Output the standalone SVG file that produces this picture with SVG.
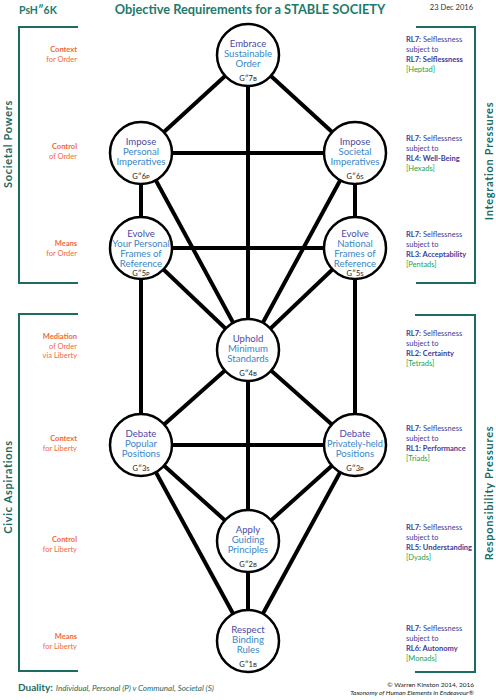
<svg xmlns="http://www.w3.org/2000/svg" width="496" height="700" viewBox="0 0 496 700">
<style>
text{font-family:Lato,"Liberation Sans",sans-serif}
.edge{stroke:#000;stroke-width:4;stroke-linecap:butt}
.node circle{fill:#fff;stroke:#000;stroke-width:2.5}
.nt{font-size:9.6px;text-anchor:middle;fill:#3a86c8}
.nt1{fill:#4b4aa6}
.g{font-size:7.5px;text-anchor:middle;fill:#222}
.bracket{fill:none;stroke:#1d6b63;stroke-width:2}
.side{font-size:11px;font-weight:bold;fill:#1d6b63;text-anchor:middle;letter-spacing:0.7px}
.lab{font-size:7.5px;fill:#f26a36;text-anchor:end}
.lab .b{font-weight:bold}
.rl{font-size:7.5px;fill:#3d3d99}
.rl .b{font-weight:bold}
.rl .gr{fill:#22a24a}
</style>

<!-- header -->
<text x="19" y="14" font-size="10.5" font-weight="bold" fill="#1d7a6c">PsH″6K</text>
<text x="250" y="14" font-size="12.8" font-weight="bold" fill="#1d7a6c" text-anchor="middle">Objective Requirements for a STABLE SOCIETY</text>
<text x="473" y="10" font-size="7.5" fill="#333" text-anchor="end">23 Dec 2016</text>

<!-- brackets -->
<g id="brackets">
<path class="bracket" d="M78,27 H19 V283 H78"/>
<path class="bracket" d="M78,314 H19 V671 H78"/>
<path class="bracket" d="M416,27 H475 V283 H416"/>
<path class="bracket" d="M415,315 H475 V672 H415"/>
</g>
<text class="side" transform="translate(12,144) rotate(-90)">Societal Powers</text>
<text class="side" transform="translate(12,487) rotate(-90)">Civic Aspirations</text>
<text class="side" transform="translate(493,161) rotate(-90)">Integration Pressures</text>
<text class="side" transform="translate(493,493) rotate(-90)">Responsibility Pressures</text>

<!-- left labels -->
<g id="left-labels">
<text class="lab" x="77" y="52"><tspan class="b">Context</tspan><tspan x="77" dy="10">for Order</tspan></text>
<text class="lab" x="77" y="149"><tspan class="b">Control</tspan><tspan x="77" dy="10">of Order</tspan></text>
<text class="lab" x="77" y="246"><tspan class="b">Means</tspan><tspan x="77" dy="10">for Order</tspan></text>
<text class="lab" x="77" y="339"><tspan class="b">Mediation</tspan><tspan x="77" dy="9.5">of Order</tspan><tspan x="77" dy="9.5">via Liberty</tspan></text>
<text class="lab" x="77" y="441"><tspan class="b">Context</tspan><tspan x="77" dy="10">for Liberty</tspan></text>
<text class="lab" x="77" y="542"><tspan class="b">Control</tspan><tspan x="77" dy="10">for Liberty</tspan></text>
<text class="lab" x="77" y="639"><tspan class="b">Means</tspan><tspan x="77" dy="10">for Liberty</tspan></text>
</g>

<!-- right labels -->
<g id="right-labels">
<text class="rl" x="406" y="42"><tspan class="b">RL7:</tspan> Selflessness<tspan x="406" dy="10">subject to</tspan><tspan x="406" dy="10" class="b">RL7: Selflessness</tspan><tspan x="406" dy="10" class="gr">[Heptad]</tspan></text>
<text class="rl" x="406" y="141"><tspan class="b">RL7:</tspan> Selflessness<tspan x="406" dy="10">subject to</tspan><tspan x="406" dy="10" class="b">RL4: Well-Being</tspan><tspan x="406" dy="10" class="gr">[Hexads]</tspan></text>
<text class="rl" x="406" y="237"><tspan class="b">RL7:</tspan> Selflessness<tspan x="406" dy="10">subject to</tspan><tspan x="406" dy="10" class="b">RL3: Acceptability</tspan><tspan x="406" dy="10" class="gr">[Pentads]</tspan></text>
<text class="rl" x="406" y="336"><tspan class="b">RL7:</tspan> Selflessness<tspan x="406" dy="10">subject to</tspan><tspan x="406" dy="10" class="b">RL2: Certainty</tspan><tspan x="406" dy="10" class="gr">[Tetrads]</tspan></text>
<text class="rl" x="406" y="431"><tspan class="b">RL7:</tspan> Selflessness<tspan x="406" dy="10">subject to</tspan><tspan x="406" dy="10" class="b">RL1: Performance</tspan><tspan x="406" dy="10" class="gr">[Triads]</tspan></text>
<text class="rl" x="406" y="530"><tspan class="b">RL7:</tspan> Selflessness<tspan x="406" dy="10">subject to</tspan><tspan x="406" dy="10" class="b">RL5: Understanding</tspan><tspan x="406" dy="10" class="gr">[Dyads]</tspan></text>
<text class="rl" x="406" y="631"><tspan class="b">RL7:</tspan> Selflessness<tspan x="406" dy="10">subject to</tspan><tspan x="406" dy="10" class="b">RL6: Autonomy</tspan><tspan x="406" dy="10" class="gr">[Monads]</tspan></text>
</g>

<!-- connectors -->
<g id="connectors">
<line class="edge" x1="248" y1="55" x2="141" y2="153"/>
<line class="edge" x1="248" y1="55" x2="355" y2="153"/>
<line class="edge" x1="248" y1="55" x2="248" y2="350"/>
<line class="edge" x1="141" y1="153" x2="355" y2="153"/>
<line class="edge" x1="141" y1="153" x2="141" y2="248"/>
<line class="edge" x1="355" y1="153" x2="355" y2="248"/>
<line class="edge" x1="141" y1="153" x2="248" y2="350"/>
<line class="edge" x1="355" y1="153" x2="248" y2="350"/>
<line class="edge" x1="141" y1="248" x2="355" y2="248"/>
<line class="edge" x1="141" y1="248" x2="248" y2="350"/>
<line class="edge" x1="355" y1="248" x2="248" y2="350"/>
<line class="edge" x1="141" y1="248" x2="141" y2="445"/>
<line class="edge" x1="355" y1="248" x2="355" y2="445"/>
<line class="edge" x1="248" y1="350" x2="141" y2="445"/>
<line class="edge" x1="248" y1="350" x2="355" y2="445"/>
<line class="edge" x1="248" y1="350" x2="248" y2="641"/>
<line class="edge" x1="141" y1="445" x2="355" y2="445"/>
<line class="edge" x1="141" y1="445" x2="248" y2="541"/>
<line class="edge" x1="355" y1="445" x2="248" y2="541"/>
<line class="edge" x1="141" y1="445" x2="248" y2="641"/>
<line class="edge" x1="355" y1="445" x2="248" y2="641"/>
</g>

<!-- nodes -->
<g id="n7B" class="node"><circle cx="248" cy="55" r="31"/>
<text class="nt" x="248" y="46.5"><tspan class="nt1">Embrace</tspan><tspan x="248" dy="10.3">Sustainable</tspan><tspan x="248" dy="10.3">Order</tspan></text>
<text class="g" x="248" y="81">G″7<tspan font-size="6">B</tspan></text></g>

<g id="n6P" class="node"><circle cx="141" cy="153" r="31"/>
<text class="nt" x="141" y="144.5"><tspan class="nt1">Impose</tspan><tspan x="141" dy="10.3">Personal</tspan><tspan x="141" dy="10.3">Imperatives</tspan></text>
<text class="g" x="141" y="179">G″6<tspan font-size="6">P</tspan></text></g>

<g id="n6S" class="node"><circle cx="355" cy="153" r="31"/>
<text class="nt" x="355" y="144.5"><tspan class="nt1">Impose</tspan><tspan x="355" dy="10.3">Societal</tspan><tspan x="355" dy="10.3">Imperatives</tspan></text>
<text class="g" x="355" y="179">G″6<tspan font-size="6">S</tspan></text></g>

<g id="n5P" class="node"><circle cx="141" cy="248" r="31"/>
<text class="nt" x="141" y="236.5"><tspan class="nt1">Evolve</tspan><tspan x="141" dy="10">Your Personal</tspan><tspan x="141" dy="10">Frames of</tspan><tspan x="141" dy="10">Reference</tspan></text>
<text class="g" x="141" y="275.5">G″5<tspan font-size="6">P</tspan></text></g>

<g id="n5S" class="node"><circle cx="355" cy="248" r="31"/>
<text class="nt" x="355" y="236.5"><tspan class="nt1">Evolve</tspan><tspan x="355" dy="10">National</tspan><tspan x="355" dy="10">Frames of</tspan><tspan x="355" dy="10">Reference</tspan></text>
<text class="g" x="355" y="275.5">G″5<tspan font-size="6">S</tspan></text></g>

<g id="n4B" class="node"><circle cx="248" cy="350" r="31"/>
<text class="nt" x="248" y="341.5"><tspan class="nt1">Uphold</tspan><tspan x="248" dy="10.3">Minimum</tspan><tspan x="248" dy="10.3">Standards</tspan></text>
<text class="g" x="248" y="376">G″4<tspan font-size="6">B</tspan></text></g>

<g id="n3S" class="node"><circle cx="141" cy="445" r="31"/>
<text class="nt" x="141" y="436.5"><tspan class="nt1">Debate</tspan><tspan x="141" dy="10.3">Popular</tspan><tspan x="141" dy="10.3">Positions</tspan></text>
<text class="g" x="141" y="471">G″3<tspan font-size="6">S</tspan></text></g>

<g id="n3P" class="node"><circle cx="355" cy="445" r="31"/>
<text class="nt" x="355" y="436.5"><tspan class="nt1">Debate</tspan><tspan x="355" dy="10.3" font-size="9.2">Privately-held</tspan><tspan x="355" dy="10.3">Positions</tspan></text>
<text class="g" x="355" y="471">G″3<tspan font-size="6">P</tspan></text></g>

<g id="n2B" class="node"><circle cx="248" cy="541" r="31"/>
<text class="nt" x="248" y="532.5"><tspan class="nt1">Apply</tspan><tspan x="248" dy="10.3">Guiding</tspan><tspan x="248" dy="10.3">Principles</tspan></text>
<text class="g" x="248" y="567">G″2<tspan font-size="6">B</tspan></text></g>

<g id="n1B" class="node"><circle cx="248" cy="641" r="31"/>
<text class="nt" x="248" y="632.5"><tspan class="nt1">Respect</tspan><tspan x="248" dy="10.3">Binding</tspan><tspan x="248" dy="10.3">Rules</tspan></text>
<text class="g" x="248" y="667">G″1<tspan font-size="6">B</tspan></text></g>

<!-- footer -->
<text x="18" y="691" font-size="10" fill="#1d6b63"><tspan font-weight="bold">Duality:</tspan><tspan font-size="8" font-style="italic" dx="3">Individual, Personal (P)  v  Communal, Societal (S)</tspan></text>
<text x="474" y="686.5" font-size="6.5" fill="#222" text-anchor="end">© Warren Kinston 2014, 2016</text>
<text x="474" y="695" font-size="6.5" fill="#222" font-style="italic" text-anchor="end">Taxonomy of Human Elements in Endeavour®</text>
</svg>
